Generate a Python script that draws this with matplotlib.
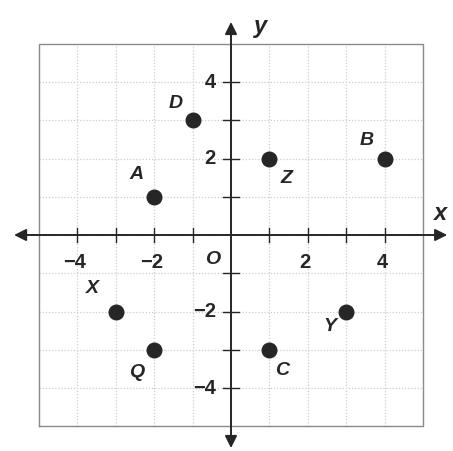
import numpy as np
import matplotlib.pyplot as plt

# points on the grid
names = ['D', 'Z', 'B', 'A', 'X', 'Q', 'C', 'Y']
xs = [-1, 1, 4, -2, -3, -2, 1, 3]
ys = [3, 2, 2, 1, -2, -3, -3, -2]
# where each letter sits, relative to its point
dx = [-0.45, 0.43, -0.46, -0.45, -0.6, -0.45, 0.33, -0.42]
dy = [0.45, -0.51, 0.48, 0.57, 0.59, -0.6, -0.53, -0.38]

tick_vals = [-4, -2, 2, 4]
tick_text = ['\u22124', '\u22122', '2', '4']

ink = '#262626'
font = dict(family=['Liberation Sans', 'DejaVu Sans'], weight='bold')

fig = plt.figure(figsize=(4.53, 4.51), dpi=100)
ax = fig.add_axes([0, 0, 1, 1])
ax.set_xlim(-231 / 38.4, (453 - 231) / 38.4)
ax.set_ylim((235 - 451) / 38.25, 235 / 38.25)
ax.axis('off')

# dotted grid + frame
for v in range(-4, 5):
    ax.plot([v, v], [-5, 5], color='#cccccc', lw=0.9, ls=(0, (1, 1.5)), zorder=1)
    ax.plot([-5, 5], [v, v], color='#cccccc', lw=0.9, ls=(0, (1, 1.5)), zorder=1)
ax.plot([-5, 5, 5, -5, -5], [-5, -5, 5, 5, -5], color='#8a8a8a', lw=1.0, zorder=2)

# axes with arrows on both ends
arr = dict(arrowstyle='<|-|>', color=ink, lw=1.4, mutation_scale=18, shrinkA=0, shrinkB=0)
ax.annotate('', xy=(5.63, 0), xytext=(-5.65, 0), arrowprops=arr, zorder=3)
ax.annotate('', xy=(0, 5.57), xytext=(0, -5.57), arrowprops=arr, zorder=3)

for v in range(-4, 5):
    if v == 0:
        continue
    ax.plot([v, v], [-0.18, 0.18], color=ink, lw=1.0, zorder=3)
    ax.plot([-0.2, 0.2], [v, v], color=ink, lw=1.0, zorder=3)

for v, t in zip(tick_vals, tick_text):
    ax.text(v - 0.07, -0.72, t, ha='center', va='center', fontsize=14.5, color=ink, **font)
    ax.text(-0.4, v, t, ha='right', va='center', fontsize=14.5, color=ink, **font)
ax.text(-0.47, -0.65, 'O', ha='center', va='center', fontsize=14, style='italic', color=ink, **font)
ax.text(5.44, 0.57, 'x', ha='center', va='center', fontsize=17, style='italic', color=ink, **font)
ax.text(0.76, 5.44, 'y', ha='center', va='center', fontsize=17, style='italic', color=ink, **font)

ax.plot(xs, ys, 'o', color=ink, markersize=10.5, zorder=4)
for n, x, y, ox, oy in zip(names, xs, ys, dx, dy):
    ax.text(x + ox, y + oy, n, ha='center', va='center', fontsize=14, style='italic', color=ink, **font)

fig.savefig('out.png', dpi=100, facecolor='white')
